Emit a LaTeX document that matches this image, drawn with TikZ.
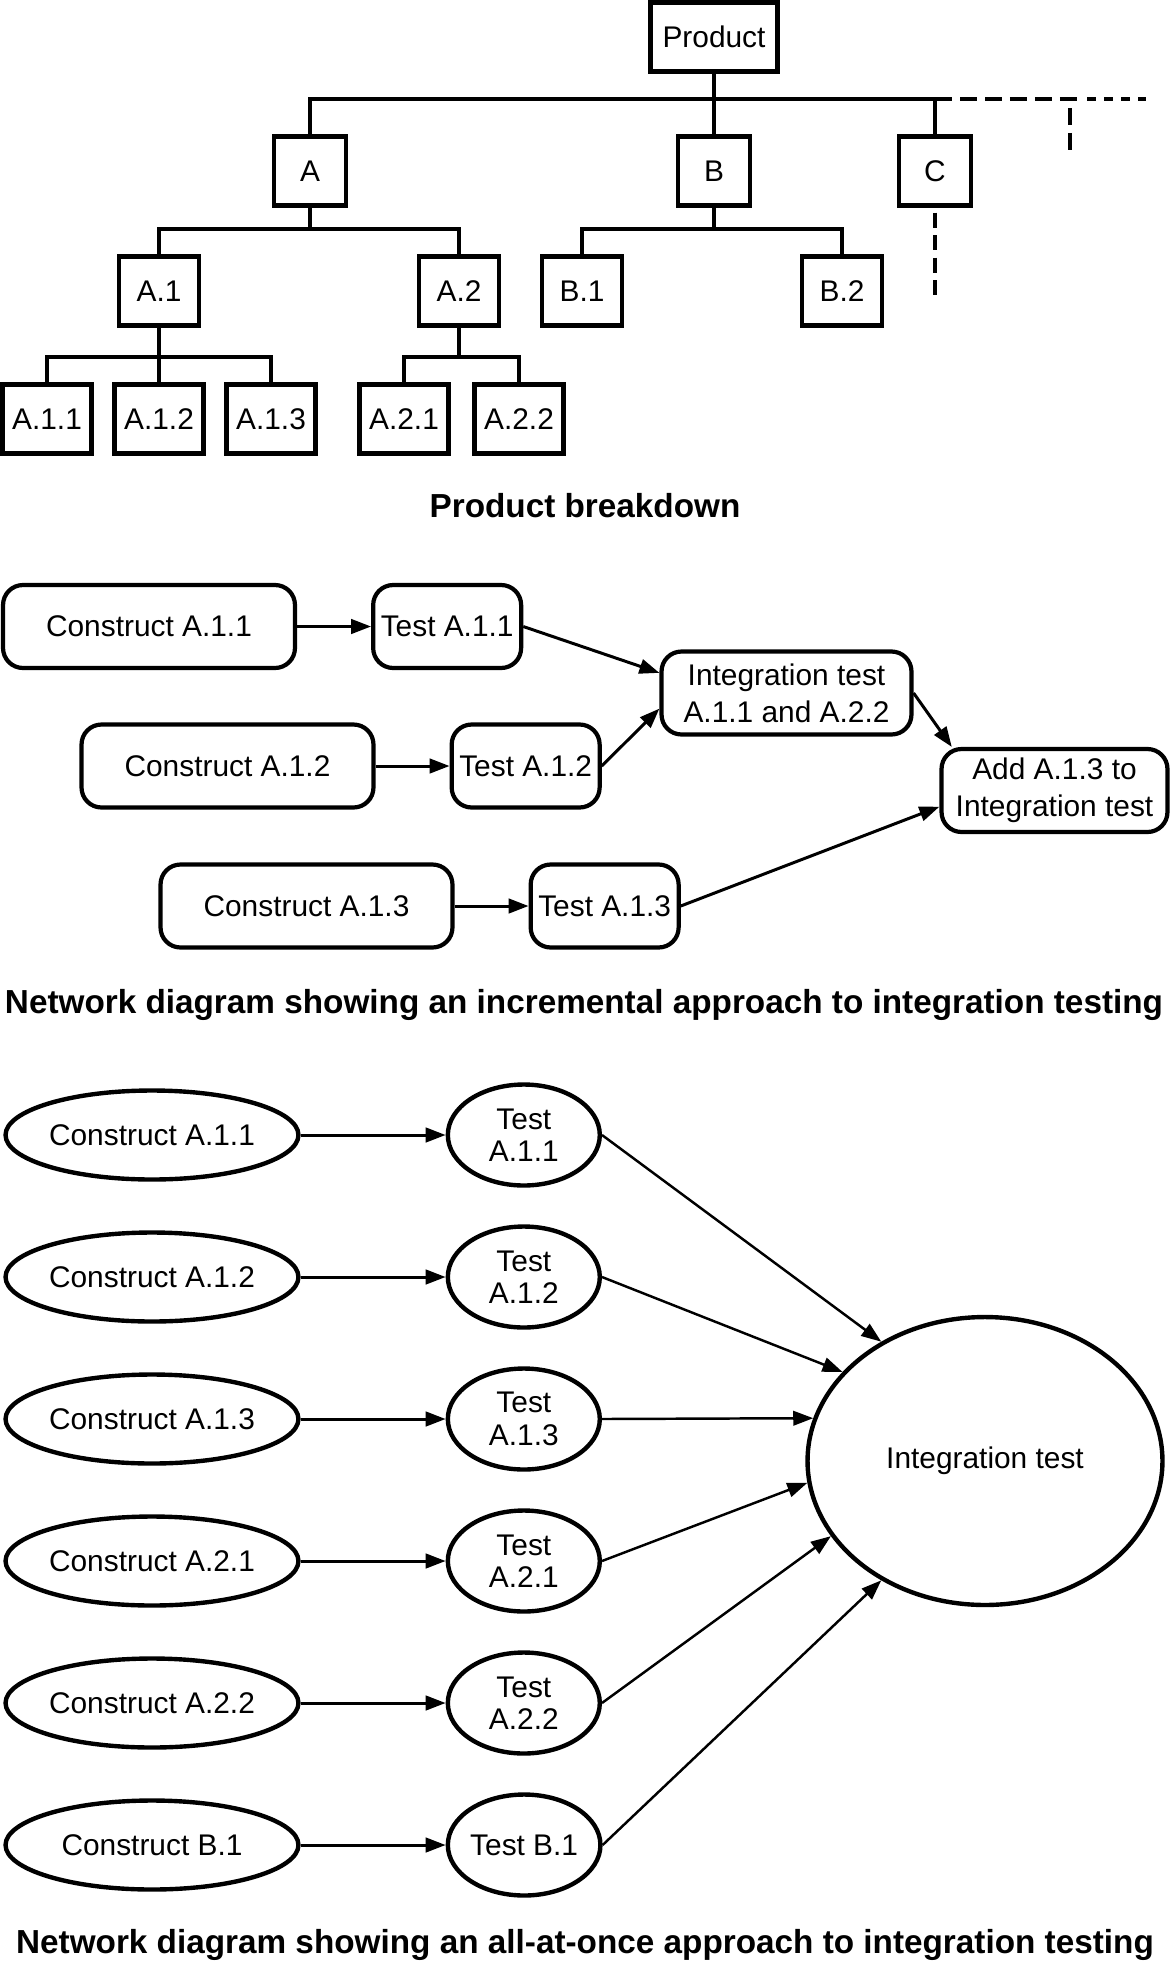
\documentclass[tikz,border=0pt]{standalone}
\usepackage{fontspec}
\setmainfont{Liberation Sans}
\usetikzlibrary{arrows.meta,positioning,shapes.geometric}

\begin{document}
\begin{tikzpicture}[
    x=0.02cm, y=-0.02cm,
    tbox/.style={draw, line width=2.5pt, inner sep=0pt, minimum height=1.38cm, font=\fontsize{17}{20}\selectfont},
    tline/.style={line width=1.8pt},
    dline/.style={line width=1.8pt, dash pattern=on 0.34cm off 0.16cm},
    rbox/.style={draw, rounded corners=0.4cm, line width=2.4pt, inner sep=2pt, minimum height=1.66cm, align=center, font=\fontsize{17}{21}\selectfont},
    ebox/.style={draw, ellipse, line width=2.5pt, inner sep=0pt, align=center, font=\fontsize{17}{18.5}\selectfont},
    econs/.style={ebox, minimum width=5.86cm, minimum height=1.78cm},
    etest/.style={ebox, minimum width=3.04cm, minimum height=2.02cm},
    ttl/.style={font=\fontsize{18.95}{22}\selectfont\bfseries},
    arr/.style={-{Triangle[length=0.4cm,width=0.29cm]}, line width=1.7pt},
    farr/.style={-{Triangle[length=0.4cm,width=0.29cm]}, line width=1.4pt}
]
    \useasboundingbox (0,0) rectangle (1171,1964);

    % product breakdown
    \node[tbox, minimum width=2.54cm] (prod) at (714,37) {Product};
    \node[tbox, minimum width=1.44cm] (pa) at (310,171) {A};
    \node[tbox, minimum width=1.44cm] (pb) at (714,171) {B};
    \node[tbox, minimum width=1.44cm] (pc) at (935,171) {C};
    \node[tbox, minimum width=1.6cm] (pa1) at (159,291) {A.1};
    \node[tbox, minimum width=1.6cm] (pa2) at (459,291) {A.2};
    \node[tbox, minimum width=1.6cm] (pb1) at (582,291) {B.1};
    \node[tbox, minimum width=1.6cm] (pb2) at (842,291) {B.2};
    \node[tbox, minimum width=1.78cm] (p111) at (47,419) {A.1.1};
    \node[tbox, minimum width=1.78cm] (p112) at (159,419) {A.1.2};
    \node[tbox, minimum width=1.78cm] (p113) at (271,419) {A.1.3};
    \node[tbox, minimum width=1.78cm] (p121) at (404,419) {A.2.1};
    \node[tbox, minimum width=1.78cm] (p122) at (519,419) {A.2.2};

    \draw[tline] (prod.south) -- (prod.south |- 0,99);
    \draw[tline] (pa.north) |- (pc.north |- 0,99) -- (pc.north);
    \draw[tline] (pb.north) -- (pb.north |- 0,99);
    \draw[tline] (pa.south) -- (pa.south |- 0,229);
    \draw[tline] (pa1.north) |- (pa2.north |- 0,229) -- (pa2.north);
    \draw[tline] (pb.south) -- (pb.south |- 0,229);
    \draw[tline] (pb1.north) |- (pb2.north |- 0,229) -- (pb2.north);
    \draw[tline] (pa1.south) -- (pa1.south |- 0,357);
    \draw[tline] (p111.north) |- (p113.north |- 0,357) -- (p113.north);
    \draw[tline] (p112.north) -- (p112.north |- 0,357);
    \draw[tline] (pa2.south) -- (pa2.south |- 0,357);
    \draw[tline] (p121.north) |- (p122.north |- 0,357) -- (p122.north);

    % further branches
    \coordinate (dd) at (1078,99);
    \coordinate (more) at (1146,99);
    \coordinate (tk1) at (1070,108);
    \coordinate (tk2) at (1070,150);
    \coordinate (cdn) at (935,295);
    \draw[dline] (pc.north |- dd) -- (dd);
    \draw[dline, dash pattern=on 0.17cm off 0.17cm] ([xshift=0.18cm]dd) -- (more);
    \draw[dline] (tk1) -- (tk2);
    \draw[dline, dash pattern=on 0.3cm off 0.15cm] ([yshift=-0.1cm]pc.south) -- (cdn);

    \node[ttl] (ttl1) at (585,506) {Product breakdown};

    % incremental
    \node[rbox, minimum width=5.84cm] (ca1) at (149,626.5) {Construct A.1.1};
    \node[rbox, minimum width=2.96cm, right=1.48cm of ca1] (ta1) {Test A.1.1};
    \node[rbox, minimum width=5.84cm] (ca2) at (227.5,766) {Construct A.1.2};
    \node[rbox, minimum width=2.96cm, right=1.48cm of ca2] (ta2) {Test A.1.2};
    \node[rbox, minimum width=5.84cm] (ca3) at (306.5,906) {Construct A.1.3};
    \node[rbox, minimum width=2.96cm, right=1.48cm of ca3] (ta3) {Test A.1.3};
    \node[rbox, minimum width=5cm] (itest) at (786.5,693) {Integration test\\A.1.1 and A.2.2};
    \node[rbox, minimum width=4.52cm] (add) at (1054.5,790.5) {Add A.1.3 to\\Integration test};

    \draw[arr] (ca1) -- (ta1);
    \draw[arr] (ca2) -- (ta2);
    \draw[arr] (ca3) -- (ta3);
    \draw[arr] (ta1.east) -- (itest.171);
    \draw[arr] (ta2.east) -- (itest.187);
    \draw[arr] (itest.east) -- (add.157);
    \draw[arr] (ta3.east) -- (add.188);

    \node[ttl] (ttl2) at (584,1005) {Network diagram showing an incremental approach to integration testing};

    % all at once
    \node[econs] (cb1) at (152,1135) {Construct A.1.1};
    \node[econs] (cb2) at (152,1277) {Construct A.1.2};
    \node[econs] (cb3) at (152,1419) {Construct A.1.3};
    \node[econs] (cb4) at (152,1561) {Construct A.2.1};
    \node[econs] (cb5) at (152,1703) {Construct A.2.2};
    \node[econs] (cb6) at (152,1845) {Construct B.1};
    \node[etest, right=2.9cm of cb1] (tb1) {Test\\A.1.1};
    \node[etest, right=2.9cm of cb2] (tb2) {Test\\A.1.2};
    \node[etest, right=2.9cm of cb3] (tb3) {Test\\A.1.3};
    \node[etest, right=2.9cm of cb4] (tb4) {Test\\A.2.1};
    \node[etest, right=2.9cm of cb5] (tb5) {Test\\A.2.2};
    \node[etest, right=2.9cm of cb6] (tb6) {Test B.1};
    \node[ebox, minimum width=7.1cm, minimum height=5.76cm] (itall) at (985,1461) {Integration test};

    \draw[arr] (cb1) -- (tb1);
    \draw[arr] (cb2) -- (tb2);
    \draw[arr] (cb3) -- (tb3);
    \draw[arr] (cb4) -- (tb4);
    \draw[arr] (cb5) -- (tb5);
    \draw[arr] (cb6) -- (tb6);
    \draw[farr] (tb1.east) -- (itall.131);
    \draw[farr] (tb2.east) -- (itall.148);
    \draw[farr] (tb3.east) -- (itall.166);
    \draw[farr] (tb4.east) -- (itall.187);
    \draw[farr] (tb5.east) -- (itall.206);
    \draw[farr] (tb6.east) -- (itall.229);

    \node[ttl] (ttl3) at (585,1945) {Network diagram showing an all-at-once approach to integration testing};
\end{tikzpicture}
\end{document}
